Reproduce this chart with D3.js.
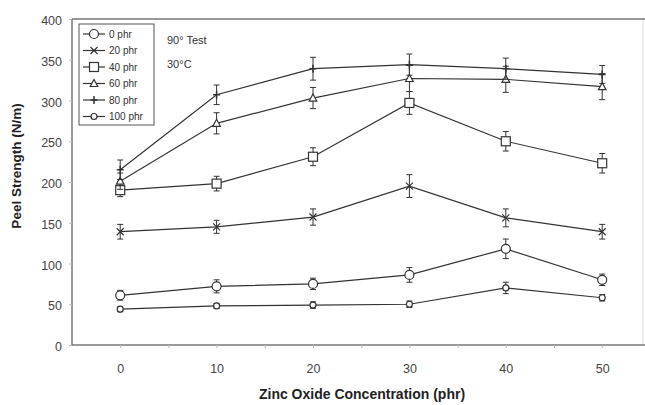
<!DOCTYPE html>
<html><head><meta charset="utf-8">
<script src="https://cdn.jsdelivr.net/npm/d3@7"></script>
<style>body{margin:0;background:#fff}svg{display:block}text{font-family:Arial,"Liberation Sans",sans-serif}</style>
</head><body><svg id="c" width="645" height="405"></svg>
<script>
const xValues = [0, 10, 20, 30, 40, 50];
const seriesNames = ["0 phr", "20 phr", "40 phr", "60 phr", "80 phr", "100 phr"];
const s0 = [61, 72, 75, 86, 118, 80];
const s20 = [139, 145, 157, 195, 156, 139];
const s40 = [190, 198, 231, 297, 250, 223];
const s60 = [201, 272, 303, 327, 326, 317];
const s80 = [215, 307, 339, 344, 339, 332];
const s100 = [44, 48, 49, 50, 70, 58];
const e0 = [6, 8, 7, 9, 12, 7];
const e20 = [9, 8, 10, 14, 11, 9];
const e40 = [8, 9, 11, 14, 12, 12];
const e60 = [10, 13, 13, 16, 16, 16];
const e80 = [12, 12, 14, 13, 13, 11];
const e100 = [3, 3, 4, 4, 7, 4];
const yTicks = [0, 50, 100, 150, 200, 250, 300, 350, 400];
const xTickLabels = ["0", "10", "20", "30", "40", "50"];
const markers = ["circle", "cross", "square", "triangle", "plus", "smallcircle"];
const values = [s0, s20, s40, s60, s80, s100];
const errors = [e0, e20, e40, e60, e80, e100];

const svg = d3.select("#c");
const x = d3.scaleLinear().domain([-5, 55]).range([72, 650.4]);
const y = d3.scaleLinear().domain([0, 400]).range([345, 19]);
const ink = "#333";

// frame
svg.append("line").attr("x1", 643).attr("x2", 643).attr("y1", 19).attr("y2", 345).attr("stroke", "#ddd").attr("stroke-width", 1);
svg.append("line").attr("x1", 72).attr("x2", 645).attr("y1", 19).attr("y2", 19).attr("stroke", "#777").attr("stroke-width", 1.5);
svg.append("line").attr("x1", 72).attr("x2", 645).attr("y1", 345).attr("y2", 345).attr("stroke", "#777").attr("stroke-width", 1.5);
svg.append("line").attr("x1", 72).attr("x2", 72).attr("y1", 19).attr("y2", 345).attr("stroke", "#777").attr("stroke-width", 1.5);

// y axis
const ya = svg.append("g").attr("transform", "translate(72,0)")
  .call(d3.axisLeft(y).tickValues(yTicks).tickSize(3).tickPadding(7));
ya.select(".domain").remove();
ya.selectAll("line").attr("stroke", "#bbb");
ya.selectAll("text").attr("font-size", 12.5).attr("fill", "#444").attr("dy", "0.45em");

// x axis
const xa = svg.append("g").attr("transform", "translate(0,345)")
  .call(d3.axisBottom(x).tickValues(d3.range(0, 55, 5)).tickSize(3).tickPadding(16)
    .tickFormat(d => xValues.includes(d) ? xTickLabels[xValues.indexOf(d)] : ""));
xa.select(".domain").remove();
xa.selectAll("line").attr("stroke", "#bbb");
xa.selectAll("text").attr("font-size", 12.5).attr("fill", "#444");

// titles
svg.append("text").attr("transform", "translate(21,166) rotate(-90)").attr("text-anchor", "middle")
  .attr("font-size", 13.5).attr("font-weight", "bold").attr("fill", "#222").text("Peel Strength (N/m)");
svg.append("text").attr("x", 362).attr("y", 399).attr("text-anchor", "middle")
  .attr("font-size", 14).attr("font-weight", "bold").attr("fill", "#222").text("Zinc Oxide Concentration (phr)");

function drawMarker(g, type, cx, cy) {
  if (type === "circle") g.append("circle").attr("cx", cx).attr("cy", cy).attr("r", 4.5).attr("fill", "#fff").attr("stroke", ink).attr("stroke-width", 1.2);
  else if (type === "smallcircle") g.append("circle").attr("cx", cx).attr("cy", cy).attr("r", 3).attr("fill", "#fff").attr("stroke", ink).attr("stroke-width", 1.2);
  else if (type === "square") g.append("rect").attr("x", cx - 4.5).attr("y", cy - 4.5).attr("width", 9).attr("height", 9).attr("fill", "#fff").attr("stroke", ink).attr("stroke-width", 1.2);
  else if (type === "triangle") g.append("path").attr("d", `M${cx},${cy - 4}L${cx + 3.8},${cy + 3}L${cx - 3.8},${cy + 3}Z`).attr("fill", "#fff").attr("stroke", ink).attr("stroke-width", 1.2);
  else if (type === "cross") g.append("path").attr("d", `M${cx - 3.5},${cy - 3.5}L${cx + 3.5},${cy + 3.5}M${cx - 3.5},${cy + 3.5}L${cx + 3.5},${cy - 3.5}`).attr("stroke", ink).attr("stroke-width", 1.2);
  else if (type === "plus") g.append("path").attr("d", `M${cx - 3.5},${cy}L${cx + 3.5},${cy}M${cx},${cy - 4}L${cx},${cy + 4}`).attr("stroke", ink).attr("stroke-width", 1.5);
}

const line = d3.line().x((d, i) => x(xValues[i])).y(d => y(d));
values.forEach((vals, si) => {
  const g = svg.append("g");
  g.append("path").datum(vals).attr("d", line).attr("fill", "none").attr("stroke", ink).attr("stroke-width", 1.2);
  vals.forEach((v, i) => {
    const cx = x(xValues[i]), e = errors[si][i];
    const y1 = y(v + e), y2 = y(v - e);
    g.append("line").attr("x1", cx).attr("x2", cx).attr("y1", y1).attr("y2", y2).attr("stroke", ink).attr("stroke-width", 1);
    g.append("line").attr("x1", cx - 3).attr("x2", cx + 3).attr("y1", y1).attr("y2", y1).attr("stroke", ink).attr("stroke-width", 1);
    g.append("line").attr("x1", cx - 3).attr("x2", cx + 3).attr("y1", y2).attr("y2", y2).attr("stroke", ink).attr("stroke-width", 1);
  });
  vals.forEach((v, i) => drawMarker(g, markers[si], x(xValues[i]), y(v)));
});

// legend
svg.append("rect").attr("x", 79).attr("y", 24).attr("width", 75).attr("height", 101).attr("fill", "#fff").attr("stroke", "#555").attr("stroke-width", 1);
seriesNames.forEach((name, i) => {
  const ly = 34 + i * 16.5;
  const g = svg.append("g");
  g.append("line").attr("x1", 83).attr("x2", 105).attr("y1", ly).attr("y2", ly).attr("stroke", ink).attr("stroke-width", 1.2);
  drawMarker(g, markers[i], 94, ly);
  g.append("text").attr("x", 109).attr("y", ly).attr("dy", "0.35em").attr("font-size", 10).attr("fill", "#333").text(name);
});
svg.append("text").attr("x", 167).attr("y", 40).attr("dy", "0.35em").attr("font-size", 11).attr("fill", "#333").text("90° Test");
svg.append("text").attr("x", 167).attr("y", 64).attr("dy", "0.35em").attr("font-size", 11).attr("fill", "#333").text("30°C");
</script></body></html>
